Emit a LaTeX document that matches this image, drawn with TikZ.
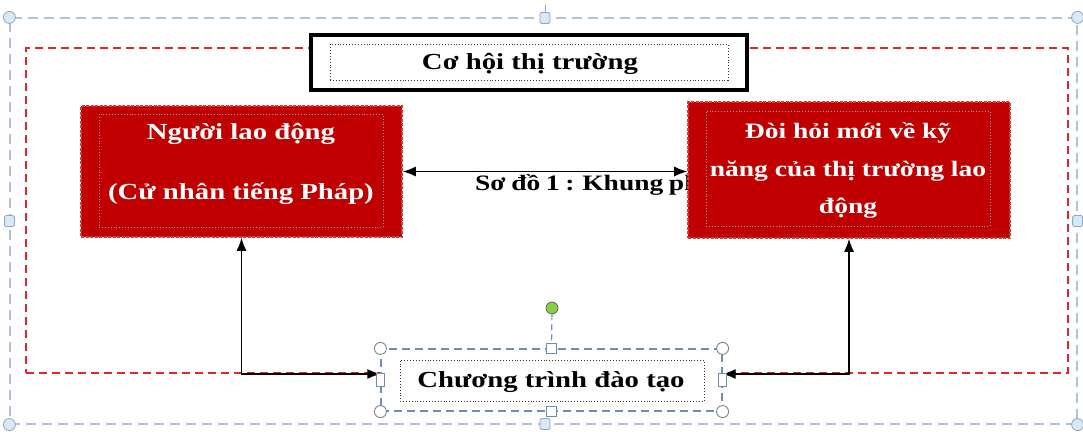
\documentclass[tikz,border=0pt]{standalone}
\usepackage{fontspec}
\setmainfont{Liberation Serif}[FakeStretch=1.25]
\usetikzlibrary{arrows.meta}
\definecolor{boxred}{HTML}{C00000}
\definecolor{boxedge}{HTML}{D83A3A}
\definecolor{framered}{HTML}{E0282C}
\definecolor{selout}{HTML}{AFC2D6}
\definecolor{selin}{HTML}{6F8FB0}
\definecolor{handlefill}{HTML}{D8E8F4}
\definecolor{handledraw}{HTML}{8EA6BF}
\definecolor{rotgreen}{HTML}{86D141}
\definecolor{dotgray}{HTML}{A0A0A0}
\begin{document}
\begin{tikzpicture}[x=1pt,y=-1pt,
  redbox/.style={fill=boxred, draw=boxedge, dash pattern=on 3pt off 1.5pt, line width=1.6pt, inner sep=0pt},
  reddot/.style={draw=dotgray, dotted, line width=0.9pt, inner sep=0pt},
  blackdot/.style={draw=black!80, dotted, line width=0.9pt, inner sep=0pt},
  lbl/.style={font=\bfseries\fontsize{23}{26}\selectfont, inner sep=0pt, anchor=base},
  wlbl/.style={lbl, text=white},
  arr/.style={line width=1.3pt, {Latex[length=13pt,width=10pt]}-{Latex[length=13pt,width=10pt]}},
  outsq/.style={draw=handledraw, fill=handlefill, rounded corners=1.5pt, minimum width=10pt, minimum height=11pt, inner sep=0pt, line width=0.8pt},
  outci/.style={draw=handledraw, fill=handlefill, circle, minimum size=12pt, inner sep=0pt, line width=0.8pt},
  insq/.style={draw=selin, fill=white, minimum width=10pt, minimum height=10pt, inner sep=0pt, line width=0.9pt},
  insqv/.style={insq, minimum width=8pt, minimum height=13pt},
  inci/.style={draw=gray, fill=white, circle, minimum size=12pt, inner sep=0pt, line width=0.9pt}
]
\useasboundingbox (0,0) rectangle (1083,431);
\fill[white] (0,0) rectangle (1083,431);

% outer selection frame
\node[draw=selout, dash pattern=on 10pt off 6pt, line width=1.2pt, minimum width=1067pt, minimum height=406pt, inner sep=0pt] (outsel) at (543.5,221) {};
% red dashed frame
\node[draw=framered, dash pattern=on 8pt off 5pt, line width=1.5pt, minimum width=1042pt, minimum height=325pt, inner sep=0pt] (redframe) at (547,210.5) {};

% title box
\node[fill=white, draw=black, line width=4pt, minimum width=436pt, minimum height=55pt, inner sep=0pt] (title) at (529,62) {};
\node[blackdot, minimum width=398pt, minimum height=36pt] (titledot) at (529,62) {};
\node[lbl] (titletxt) at (530,69) {Cơ hội thị trường};

% caption partly hidden behind the right box
\node[lbl, font=\bfseries\fontsize{22}{26}\selectfont, anchor=base west] (cap) at (475,190) {\spaceskip=5.6pt plus 1pt\relax Sơ đồ 1 : Khung ph};

% red boxes
\node[redbox, minimum width=321pt, minimum height=131pt] (lbox) at (241.5,171.5) {};
\node[reddot, minimum width=284pt, minimum height=113pt] (ldot) at (241,170.5) {};
\node[wlbl] (lt1) at (241,139) {Người lao động};
\node[wlbl] (lt2) at (241,199) {(Cử nhân tiếng Pháp)};

\node[redbox, minimum width=322pt, minimum height=136pt] (rbox) at (849,170) {};
\node[reddot, minimum width=284pt, minimum height=115pt] (rdot) at (848,168.5) {};
\node[wlbl, font=\bfseries\fontsize{22}{26}\selectfont] (rt1) at (848,138) {Đòi hỏi mới về kỹ};
\node[wlbl, font=\bfseries\fontsize{22}{26}\selectfont] (rt2) at (848,176) {năng của thị trường lao};
\node[wlbl, font=\bfseries\fontsize{22}{26}\selectfont] (rt3) at (848,213) {động};

% horizontal double arrow
\draw[arr] (lbox.east) -- (lbox.east -| rbox.west);

% bottom selected text box
\node[draw=selin, dash pattern=on 8pt off 5pt, line width=1.2pt, fill=white, minimum width=341pt, minimum height=62pt, inner sep=0pt] (csel) at (551.5,380) {};
\node[blackdot, fill=white, minimum width=304pt, minimum height=41pt] (cdot) at (552,380.5) {};
\node[lbl] (ctxt) at (551,387) {Chương trình đào tạo};

% vertical connectors
\coordinate (cl) at ([yshift=6pt]csel.west);
\coordinate (cr) at ([yshift=6pt]csel.east);
\draw[arr] (lbox.south) |- (cl);
\draw[arr] (rbox.south) |- (cr);

% outer selection handles
\draw[handledraw, line width=0.8pt] (545,5) -- (545,13);
\node[outci] (o1) at (outsel.north west) {};
\node[outci] (o2) at (outsel.north east) {};
\node[outci] (o3) at (outsel.south west) {};
\node[outci] (o4) at (outsel.south east) {};
\node[outsq] (o5) at (545,18) {};
\node[outsq] (o6) at (outsel.west) {};
\node[outsq] (o7) at (outsel.east) {};
\node[outsq] (o8) at (545,424) {};

% inner selection handles
\node[circle, draw=gray!80!black, fill=rotgreen, minimum size=12pt, inner sep=0pt, line width=0.8pt] (rot) at (552,308) {};
\node[insq] (i5) at (csel.north) {};
\draw[selin, dash pattern=on 6pt off 4pt, line width=1.2pt] (rot) -- (i5);
\node[inci] (i1) at (csel.north west) {};
\node[inci] (i2) at (csel.north east) {};
\node[inci] (i3) at (csel.south west) {};
\node[inci] (i4) at (csel.south east) {};
\node[insq] (i6) at (csel.south) {};
\node[insqv] (i7) at (csel.west) {};
\node[insqv] (i8) at (csel.east) {};
\end{tikzpicture}
\end{document}
